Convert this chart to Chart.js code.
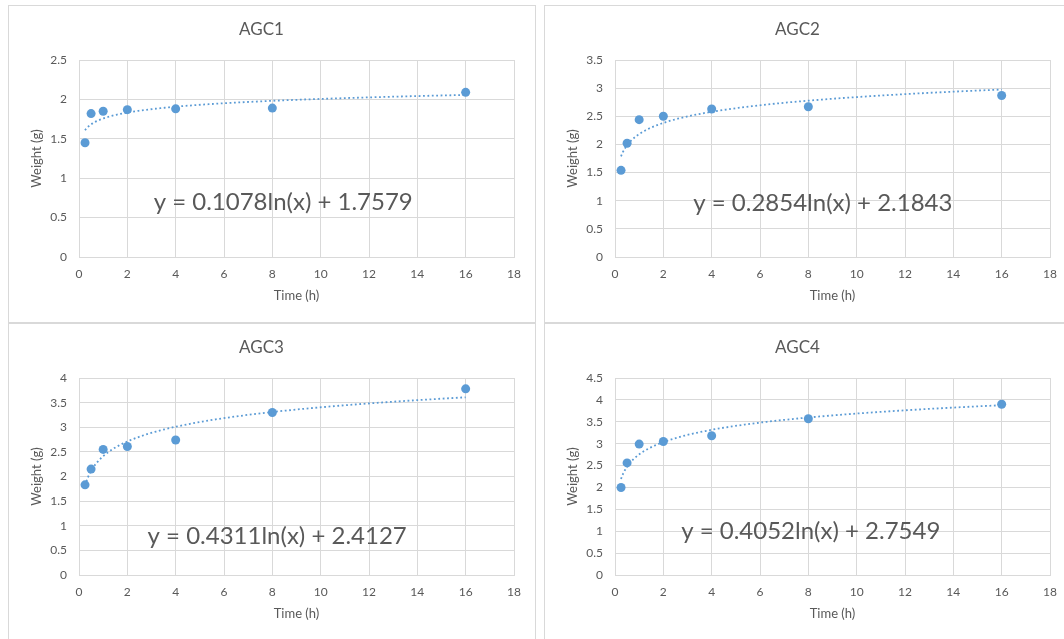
<!DOCTYPE html>
<html>
<head>
<meta charset="utf-8">
<script src="https://cdn.jsdelivr.net/npm/chart.js@4/dist/chart.umd.min.js"></script>
<style>
  html, body { margin: 0; padding: 0; background: #fff; }
  body { width: 1064px; height: 639px; position: relative; overflow: hidden; }
  .panel {
    position: absolute; width: 528px; height: 318px;
    box-sizing: border-box; border: 1px solid #d9d9d9; background: #fff;
  }
  .panel canvas { display: block; }
</style>
</head>
<body>
<div class="panel" style="left:8px;top:5px"><canvas id="c0" width="526" height="316"></canvas></div>
<div class="panel" style="left:544px;top:5px"><canvas id="c1" width="526" height="316"></canvas></div>
<div class="panel" style="left:8px;top:323px"><canvas id="c2" width="526" height="316"></canvas></div>
<div class="panel" style="left:544px;top:323px"><canvas id="c3" width="526" height="316"></canvas></div>
<script>
/* ---------- Data ---------- */
const titles = ['AGC1', 'AGC2', 'AGC3', 'AGC4'];
const times = [0.25, 0.5, 1, 2, 4, 8, 16];
const agc1 = [1.45, 1.82, 1.85, 1.87, 1.88, 1.89, 2.09];
const agc2 = [1.54, 2.02, 2.44, 2.50, 2.63, 2.67, 2.87];
const agc3 = [1.83, 2.15, 2.55, 2.61, 2.74, 3.30, 3.78];
const agc4 = [2.00, 2.56, 2.99, 3.05, 3.18, 3.57, 3.90];
const series = [agc1, agc2, agc3, agc4];

// log trendline coefficients as printed on the charts: y = a ln(x) + b
const slopes = [0.1078, 0.2854, 0.4311, 0.4052];
const intercepts = [1.7579, 2.1843, 2.4127, 2.7549];

const xTicks = [0, 2, 4, 6, 8, 10, 12, 14, 16, 18];
const yMaxes = [2.5, 3.5, 4, 4.5];
const yStep = 0.5;

/* ---------- Styling / placement ---------- */
const BLUE = '#5b9bd5';
const GREY = '#595959';
const GRID = '#d9d9d9';
const FONT = 'Lato, "Open Sans", sans-serif';
// equation label centre, in data units
const eqPos = [{x: 8.45, y: 0.69}, {x: 8.6, y: 0.96}, {x: 8.2, y: 0.79}, {x: 8.1, y: 1.01}];

function trendPoints(a, b) {
  // sample the fitted curve between first and last measured time
  const pts = [];
  const t0 = times[0], t1 = times[times.length - 1];
  const n = 80;
  for (let i = 0; i <= n; i++) {
    const x = t0 * Math.pow(t1 / t0, i / n);
    pts.push({x, y: a * Math.log(x) + b});
  }
  return pts;
}

const equationLabel = {
  id: 'equationLabel',
  afterDatasetsDraw(chart, args, opts) {
    const {ctx, scales: {x, y}} = chart;
    ctx.save();
    ctx.font = '24px ' + FONT;
    ctx.fillStyle = GREY;
    ctx.textAlign = 'center';
    ctx.textBaseline = 'middle';
    ctx.fillText(opts.text, x.getPixelForValue(opts.x), y.getPixelForValue(opts.y));
    ctx.restore();
  }
};

titles.forEach((title, i) => {
  const a = slopes[i], b = intercepts[i];
  const sign = b >= 0 ? ' + ' : ' - ';
  const eqText = 'y = ' + a.toFixed(4) + 'ln(x)' + sign + Math.abs(b).toFixed(4);

  new Chart(document.getElementById('c' + i), {
    type: 'scatter',
    data: {
      datasets: [
        {
          label: 'trend',
          data: trendPoints(a, b),
          showLine: true,
          borderColor: BLUE,
          borderWidth: 1.8,
          borderDash: [1.8, 2.6],
          pointRadius: 0,
          tension: 0,
        },
        {
          label: title,
          data: times.map((t, k) => ({x: t, y: series[i][k]})),
          backgroundColor: BLUE,
          borderColor: BLUE,
          pointRadius: 4.5,
          pointBorderWidth: 0,
        }
      ]
    },
    options: {
      responsive: false,
      animation: false,
      layout: { padding: { left: 0, right: 21, top: 0, bottom: 0 } },
      plugins: {
        legend: { display: false },
        tooltip: { enabled: false },
        title: {
          display: true,
          text: title,
          color: GREY,
          font: { family: FONT, size: 17, weight: 'normal' },
          padding: { top: 13.5, bottom: 20.1 }
        },
        equationLabel: { text: eqText, x: eqPos[i].x, y: eqPos[i].y }
      },
      scales: {
        x: {
          type: 'linear',
          min: 0, max: 18,
          afterBuildTicks: s => { s.ticks = xTicks.map(v => ({value: v})); },
          afterFit: s => { s.height = 65; },
          grid: { color: GRID, drawTicks: false },
          border: { color: GRID },
          ticks: { color: GREY, padding: 10, font: { family: FONT, size: 12 } },
          title: {
            display: true, text: 'Time (h)', color: GREY,
            font: { family: FONT, size: 13 }, padding: { top: 0, bottom: 18 }
          }
        },
        y: {
          min: 0, max: yMaxes[i],
          ticks: {
            stepSize: yStep, color: GREY, padding: 12,
            font: { family: FONT, size: 12 },
            callback: v => String(+v.toFixed(1))
          },
          afterFit: s => { s.width = 70; },
          grid: { color: GRID, drawTicks: false },
          border: { color: GRID },
          title: {
            display: true, text: 'Weight (g)', color: GREY,
            font: { family: FONT, size: 13 }, padding: { top: 20, bottom: 0 }
          }
        }
      }
    },
    plugins: [equationLabel]
  });
});
</script>
</body>
</html>
